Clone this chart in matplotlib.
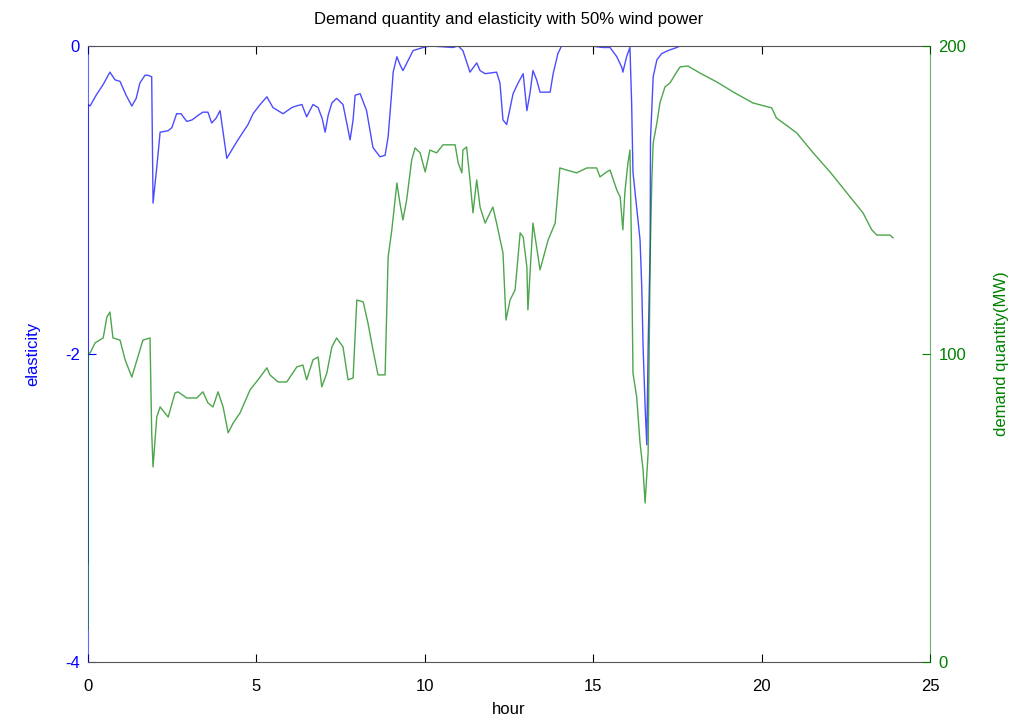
import matplotlib
matplotlib.use("Agg")
import matplotlib.pyplot as plt

# elasticity (left axis)
hour_e = [0.00, 0.00, 0.06, 0.24, 0.45, 0.65, 0.80, 0.95, 1.13, 1.30, 1.43, 1.54, 1.69, 1.78, 1.89,
          1.93, 2.04, 2.14, 2.38, 2.49, 2.63, 2.76, 2.93, 3.09, 3.27, 3.41, 3.56, 3.67, 3.80, 3.92,
          4.01, 4.12, 4.31, 4.45, 4.60, 4.75, 4.90, 5.11, 5.31, 5.49, 5.64, 5.79, 6.05, 6.18, 6.35,
          6.49, 6.68, 6.83, 6.95, 7.04, 7.13, 7.24, 7.38, 7.57, 7.69, 7.78, 7.87, 7.93, 8.08, 8.27,
          8.46, 8.67, 8.82, 8.91, 9.02, 9.06, 9.17, 9.26, 9.35, 9.56, 9.65, 9.95, 10.15, 10.84, 10.99,
          11.13, 11.34, 11.54, 11.64, 11.79, 12.13, 12.23, 12.32, 12.43, 12.62, 12.77, 12.92, 13.03,
          13.12, 13.21, 13.32, 13.42, 13.72, 13.81, 13.95, 14.06, 14.90, 15.29, 15.50, 15.70, 15.85,
          15.88, 15.99, 16.09, 16.14, 16.18, 16.29, 16.39, 16.44, 16.48, 16.54, 16.59, 16.63, 16.69,
          16.70, 16.78, 16.89, 17.03, 17.22, 17.48, 17.58, 23.90]
elasticity = [-3.36, -0.38, -0.39, -0.32, -0.25, -0.17, -0.22, -0.23, -0.32, -0.39, -0.34, -0.24, -0.19, -0.19, -0.20,
              -1.02, -0.79, -0.56, -0.55, -0.53, -0.44, -0.44, -0.49, -0.48, -0.45, -0.43, -0.43, -0.50, -0.47, -0.42,
              -0.56, -0.73, -0.66, -0.61, -0.56, -0.51, -0.44, -0.38, -0.33, -0.40, -0.42, -0.44, -0.40, -0.39, -0.38,
              -0.46, -0.38, -0.40, -0.47, -0.56, -0.45, -0.37, -0.34, -0.38, -0.51, -0.61, -0.48, -0.32, -0.31, -0.42,
              -0.66, -0.72, -0.71, -0.59, -0.29, -0.17, -0.07, -0.12, -0.16, -0.07, -0.03, -0.01, 0.00, -0.01, 0.00,
              -0.03, -0.17, -0.11, -0.16, -0.18, -0.17, -0.24, -0.48, -0.51, -0.31, -0.24, -0.18, -0.42,
              -0.31, -0.16, -0.22, -0.30, -0.30, -0.18, -0.05, 0.00, 0.00, -0.01, -0.01, -0.07, -0.14,
              -0.17, -0.07, -0.01, -0.37, -0.82, -1.05, -1.26, -1.56, -1.95, -2.34, -2.59, -1.95, -1.31,
              -0.61, -0.20, -0.09, -0.05, -0.03, -0.01, 0.00, 0.00]

# demand quantity (right axis)
hour_d = [0.00, 0.00, 0.06, 0.21, 0.45, 0.56, 0.65, 0.74, 0.95, 1.10, 1.30, 1.48, 1.63, 1.84, 1.89,
          1.93, 2.04, 2.14, 2.38, 2.58, 2.67, 2.93, 3.23, 3.41, 3.56, 3.71, 3.86, 4.01, 4.16, 4.31,
          4.51, 4.81, 5.11, 5.31, 5.40, 5.64, 5.90, 6.20, 6.38, 6.49, 6.68, 6.83, 6.94, 7.09, 7.24,
          7.38, 7.57, 7.72, 7.87, 7.98, 8.17, 8.31, 8.46, 8.61, 8.82, 8.91, 9.02, 9.17, 9.26, 9.35,
          9.46, 9.61, 9.71, 9.86, 10.01, 10.15, 10.35, 10.54, 10.90, 10.99, 11.10, 11.13, 11.24, 11.34,
          11.43, 11.54, 11.64, 11.79, 12.02, 12.13, 12.32, 12.41, 12.53, 12.68, 12.83, 12.92, 13.03,
          13.06, 13.21, 13.32, 13.42, 13.66, 13.87, 14.01, 14.21, 14.51, 14.81, 15.10, 15.20, 15.40,
          15.50, 15.70, 15.80, 15.88, 15.94, 16.03, 16.09, 16.14, 16.18, 16.29, 16.39, 16.48, 16.54,
          16.63, 16.69, 16.74, 16.78, 16.89, 16.98, 17.13, 17.28, 17.48, 17.58, 17.81, 18.17, 18.67,
          19.15, 19.74, 20.30, 20.44, 21.04, 21.53, 22.03, 22.53, 23.01, 23.27, 23.42, 23.81, 23.90]
demand = [10.4, 100.3, 100.3, 103.6, 105.2, 112.0, 113.6, 105.2, 104.5, 98.1, 92.5, 99.0, 104.5, 105.2, 74.4,
          63.3, 79.5, 82.8, 79.5, 87.3, 87.7, 85.7, 85.7, 87.7, 84.1, 82.8, 87.7, 82.8, 74.4, 77.6,
          80.8, 88.3, 92.5, 95.5, 93.2, 90.9, 90.9, 95.8, 96.4, 91.6, 98.1, 99.0, 89.3, 93.8, 102.3,
          105.2, 102.3, 91.6, 92.2, 117.5, 116.9, 110.1, 101.3, 93.2, 93.2, 131.5, 140.3, 155.5, 149.0, 143.5,
          150.0, 163.0, 166.9, 165.3, 159.1, 166.2, 165.3, 167.9, 167.9, 162.0, 158.8, 166.2, 167.2, 156.5,
          145.8, 156.5, 147.7, 142.5, 147.7, 142.5, 132.8, 111.0, 117.5, 120.8, 139.3, 138.0, 128.2,
          114.3, 142.5, 134.7, 127.3, 137.0, 142.5, 160.4, 159.7, 158.8, 160.4, 160.4, 157.5, 159.1,
          159.7, 153.2, 151.0, 140.3, 152.6, 162.0, 166.2, 131.5, 93.8, 86.0, 71.1, 62.3, 51.6,
          67.9, 131.5, 156.5, 168.5, 175.0, 181.5, 186.7, 188.0, 191.6, 193.2, 193.5, 191.2, 188.3,
          185.1, 181.5, 179.9, 176.6, 171.8, 165.3, 159.1, 152.3, 145.8, 140.3, 138.6, 138.6, 137.7]

x_ticks = [0, 5, 10, 15, 20, 25]
e_ticks = [-4, -2, 0]
d_ticks = [0, 100, 200]

blue = (0.0, 0.0, 1.0)
green = (0.0, 0.5, 0.0)

plt.rcParams['font.family'] = ['Liberation Sans', 'DejaVu Sans']
plt.rcParams['axes.unicode_minus'] = False

fig = plt.figure(figsize=(10.12, 7.25), dpi=100)
ax = fig.add_axes([0.087, 0.087, 0.832, 0.8496])
ax2 = ax.twinx()

ax.plot(hour_e, elasticity, color=blue, lw=1.0, alpha=0.7)
ax2.plot(hour_d, demand, color=green, lw=1.0, alpha=0.7)

ax.set_xlim(0, 25)
ax.set_ylim(-4, 0)
ax2.set_ylim(0, 200)
ax.set_xticks(x_ticks)
ax.set_yticks(e_ticks)
ax2.set_yticks(d_ticks)

ax.tick_params(axis='x', direction='in', length=6, top=True, labelsize=12, colors='black', pad=12)
ax.tick_params(axis='y', direction='in', length=6, labelsize=12, colors=blue, pad=6)
ax2.tick_params(axis='y', direction='in', length=6, labelsize=12, colors=green, pad=6)

for s in ['top', 'bottom']:
    ax.spines[s].set_color('#555555')
ax.spines['left'].set_color(blue)
ax.spines['left'].set_alpha(0.6)
ax.spines['right'].set_visible(False)
ax2.spines['left'].set_visible(False)
ax2.spines['top'].set_visible(False)
ax2.spines['bottom'].set_visible(False)
ax2.spines['right'].set_color(green)
ax2.spines['right'].set_alpha(0.6)

ax.set_title("Demand quantity and elasticity with 50% wind power", fontsize=12, pad=16)
ax.set_xlabel("hour", fontsize=12, labelpad=6)
ax.set_ylabel("elasticity", fontsize=12, color=blue, labelpad=18)
ax2.set_ylabel("demand quantity(MW)", fontsize=12, color=green, labelpad=20)

fig.savefig("out.png", dpi=100)
